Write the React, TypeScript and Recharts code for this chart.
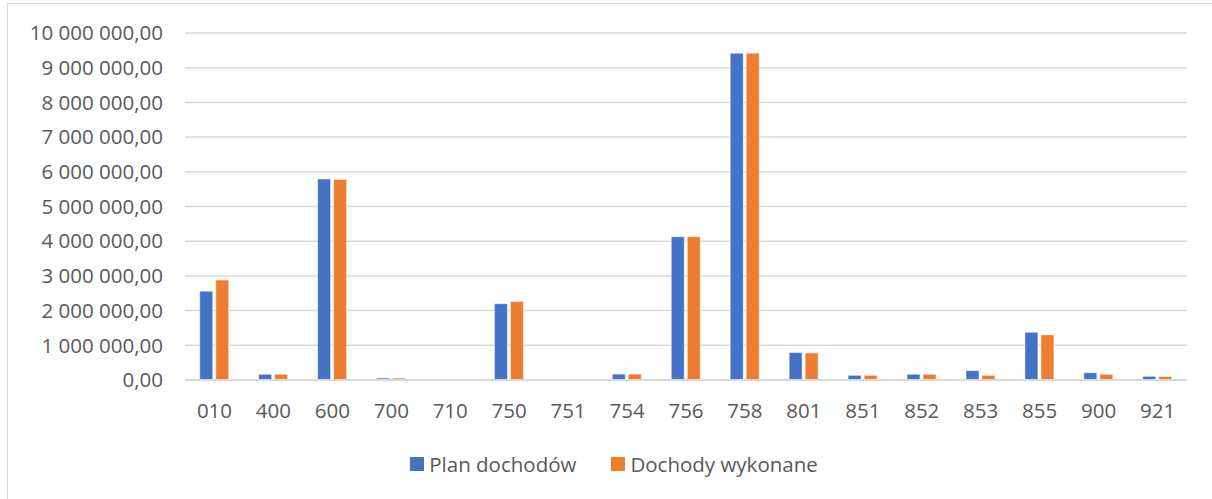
import React from 'react';
import { BarChart, Bar, XAxis, YAxis, CartesianGrid, Legend } from 'recharts';

const categories = ['010', '400', '600', '700', '710', '750', '751', '754', '756', '758', '801', '851', '852', '853', '855', '900', '921'];
const planDochodow = [2560000, 165000, 5790000, 55000, 0, 2200000, 30000, 170000, 4130000, 9420000, 790000, 135000, 165000, 270000, 1375000, 210000, 105000];
const dochodyWykonane = [2880000, 165000, 5780000, 55000, 0, 2260000, 30000, 170000, 4130000, 9420000, 780000, 135000, 165000, 135000, 1300000, 165000, 100000];
const yTicks = [0, 1000000, 2000000, 3000000, 4000000, 5000000, 6000000, 7000000, 8000000, 9000000, 10000000];

const data = categories.map((c, i) => ({ name: c, plan: planDochodow[i], wyk: dochodyWykonane[i] }));

const fmt = (v: number) => {
  const s = Math.round(v).toString().replace(/\B(?=(\d{3})+(?!\d))/g, ' ');
  return s + ',00';
};

const FONT = '"Open Sans", sans-serif';
const TXT = '#595959';
const FS = 20.5;

const LegendContent = () => (
  <div style={{ display: 'flex', justifyContent: 'center', alignItems: 'center', fontFamily: FONT, fontSize: FS, color: TXT, paddingLeft: 16 }}>
    <div style={{ display: 'flex', alignItems: 'center', marginRight: 35 }}>
      <span style={{ display: 'inline-block', width: 14, height: 14, background: '#4472C4', marginRight: 5 }} />
      <span>Plan dochodów</span>
    </div>
    <div style={{ display: 'flex', alignItems: 'center' }}>
      <span style={{ display: 'inline-block', width: 14, height: 14, background: '#ED7D31', marginRight: 5 }} />
      <span>Dochody wykonane</span>
    </div>
  </div>
);

export default function App() {
  return (
    <div style={{ position: 'fixed', left: 0, top: 0, width: 1212, height: 499, background: '#fff', overflow: 'hidden' }}>
      <div style={{ position: 'absolute', left: 7, top: 3, width: 1220, height: 520, border: '1px solid #d9d9d9', boxSizing: 'border-box' }} />
      <div style={{ position: 'absolute', left: 0, top: 0 }}>
        <BarChart
          width={1212}
          height={499}
          data={data}
          margin={{ top: 33, right: 25, left: 0, bottom: 89 }}
          barCategoryGap="25%"
          barGap={3}
        >
          <CartesianGrid vertical={false} stroke="#d9d9d9" strokeWidth={1.5} />
          <XAxis
            dataKey="name"
            axisLine={{ stroke: '#d9d9d9', strokeWidth: 2 }}
            tickLine={false}
            tickSize={0}
            tickMargin={23}
            height={30}
            interval={0}
            tick={{ fill: TXT, fontSize: FS, fontFamily: FONT }}
          />
          <YAxis
            width={185}
            domain={[0, 10000000]}
            ticks={yTicks}
            axisLine={false}
            tickLine={false}
            tickSize={0}
            tickMargin={22}
            tickFormatter={fmt}
            tick={{ fill: TXT, fontSize: FS, fontFamily: FONT }}
          />
          <Legend
            layout="horizontal"
            verticalAlign="middle"
            align="center"
            content={<LegendContent />}
            wrapperStyle={{ top: 450, left: 0, width: 1212 }}
          />
          <Bar dataKey="plan" name="Plan dochodów" fill="#4472C4" stroke="#ffffff" strokeWidth={0.5} isAnimationActive={false} />
          <Bar dataKey="wyk" name="Dochody wykonane" fill="#ED7D31" stroke="#ffffff" strokeWidth={0.5} isAnimationActive={false} />
        </BarChart>
      </div>
    </div>
  );
}
